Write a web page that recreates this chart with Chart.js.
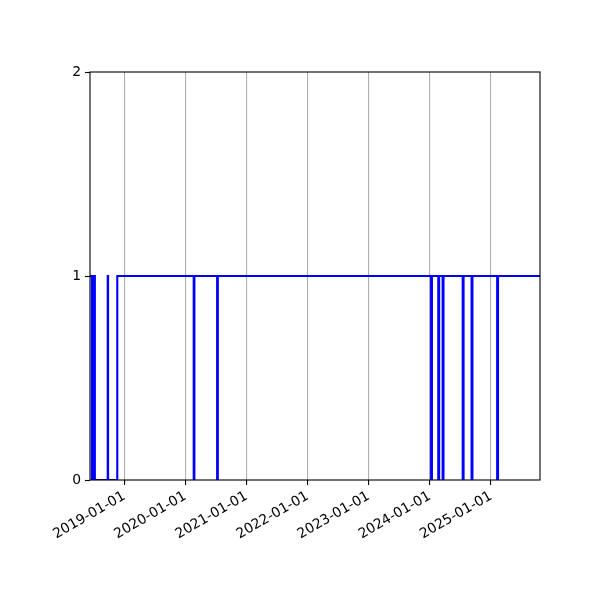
<!DOCTYPE html>
<html>
<head>
<meta charset="utf-8">
<script src="https://cdn.jsdelivr.net/npm/chart.js@4/dist/chart.umd.min.js"></script>
<style>
  html, body { margin: 0; padding: 0; background: #ffffff; }
  #wrap { width: 600px; height: 600px; }
</style>
</head>
<body>
<div id="wrap"><canvas id="c" width="600" height="600"></canvas></div>
<script>
// Transition dates (state changes) and the value taken from that date on
const changeDates = [
  "2018-06-10", "2018-06-21", "2018-06-25", "2018-06-29", "2018-07-03", "2018-07-09",
  "2018-09-24", "2018-09-26", "2018-11-20",
  "2020-02-20", "2020-02-24",
  "2020-07-09", "2020-07-13",
  "2024-01-09", "2024-01-14",
  "2024-02-21", "2024-02-26",
  "2024-03-18", "2024-03-23",
  "2024-07-16", "2024-07-21",
  "2024-09-07", "2024-09-12",
  "2025-02-07", "2025-02-12",
  "2025-10-21"
];
const stateValues = [
  1, 0, 1, 0, 1, 0,
  1, 0, 1,
  0, 1,
  0, 1,
  0, 1,
  0, 1,
  0, 1,
  0, 1,
  0, 1,
  0, 1,
  1
];
const xStart = "2018-06-10";
const xEnd = "2025-10-21";
const tickDates = ["2019-01-01", "2020-01-01", "2021-01-01", "2022-01-01", "2023-01-01", "2024-01-01", "2025-01-01"];
const tickLabels = ["2019-01-01", "2020-01-01", "2021-01-01", "2022-01-01", "2023-01-01", "2024-01-01", "2025-01-01"];
const yTicks = [0, 1, 2];

function toDay(s) {
  const p = s.split("-").map(Number);
  return Date.UTC(p[0], p[1] - 1, p[2]) / 86400000;
}

const points = changeDates.map((d, i) => ({ x: toDay(d), y: stateValues[i] }));
const tickValues = tickDates.map(toDay);

const FONT = { family: "'DejaVu Sans', sans-serif", size: 13.9 };

const framePlugin = {
  id: 'frame',
  afterDatasetsDraw(chart) {
    const a = chart.chartArea;
    const ctx = chart.ctx;
    ctx.save();
    ctx.strokeStyle = '#000000';
    ctx.lineWidth = 1.1;
    ctx.strokeRect(a.left, a.top, a.right - a.left, a.bottom - a.top);
    ctx.restore();
  }
};

new Chart(document.getElementById('c'), {
  type: 'line',
  data: {
    datasets: [{
      data: points,
      borderColor: '#0000ff',
      borderWidth: 2.1,
      pointRadius: 0,
      pointHoverRadius: 0,
      stepped: 'before',
      fill: false,
      tension: 0
    }]
  },
  options: {
    responsive: false,
    animation: false,
    devicePixelRatio: 1,
    layout: { padding: { left: 0, top: 72, right: 60, bottom: 0 } },
    plugins: { legend: { display: false }, tooltip: { enabled: false } },
    scales: {
      x: {
        type: 'linear',
        min: toDay(xStart),
        max: toDay(xEnd),
        afterBuildTicks(scale) {
          scale.ticks = tickValues.map(v => ({ value: v }));
        },
        afterFit(scale) { scale.height = 120; },
        grid: {
          display: true,
          drawOnChartArea: true,
          color: '#b0b0b0',
          lineWidth: 1.1,
          tickColor: '#000000',
          tickLength: 5,
          tickWidth: 1.1
        },
        border: { display: false },
        ticks: {
          autoSkip: false,
          maxRotation: 30,
          minRotation: 30,
          padding: 3,
          color: '#000000',
          font: FONT,
          callback(value) {
            const i = tickValues.indexOf(value);
            return i >= 0 ? tickLabels[i] : '';
          }
        }
      },
      y: {
        type: 'linear',
        min: 0,
        max: 2,
        afterBuildTicks(scale) {
          scale.ticks = yTicks.map(v => ({ value: v }));
        },
        afterFit(scale) { scale.width = 90; },
        grid: {
          display: true,
          drawOnChartArea: false,
          color: '#000000',
          tickColor: '#000000',
          tickLength: 5,
          tickWidth: 1.1
        },
        border: { display: false },
        ticks: {
          padding: 4,
          color: '#000000',
          font: FONT,
          callback(value) { return String(value); }
        }
      }
    }
  },
  plugins: [framePlugin]
});
</script>
</body>
</html>
